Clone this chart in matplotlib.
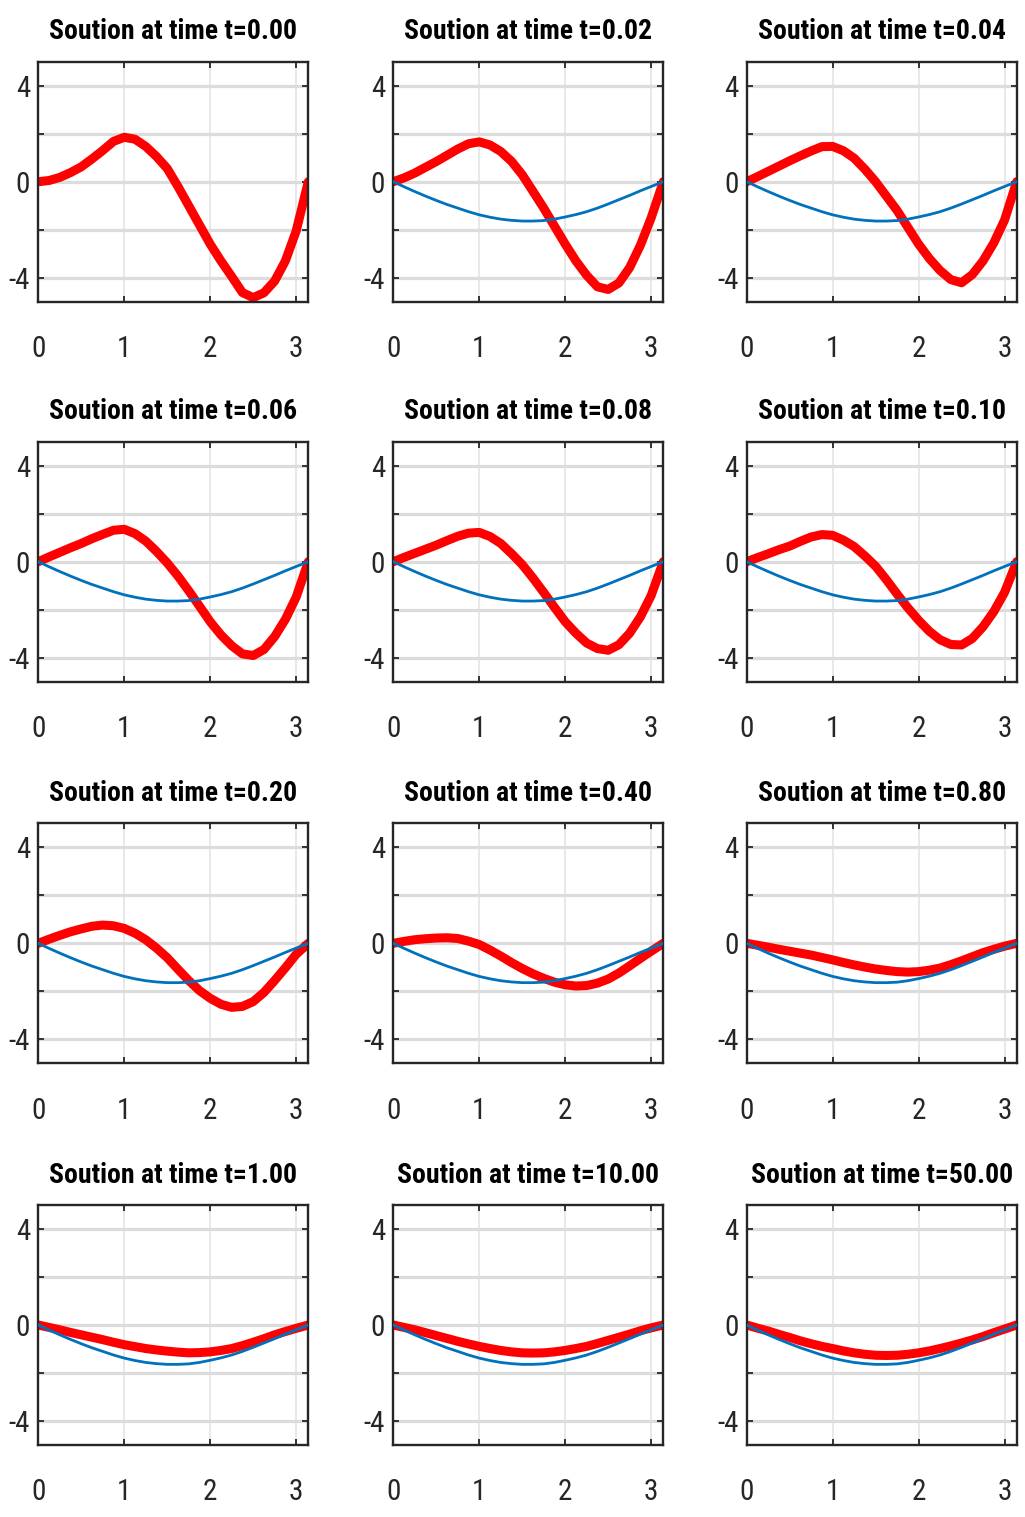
import matplotlib
matplotlib.use('Agg')
import matplotlib.pyplot as plt

plt.rcParams['font.family'] = ['Roboto Condensed', 'Liberation Sans Narrow',
                               'Liberation Sans', 'DejaVu Sans']
plt.rcParams['font.stretch'] = 'condensed'

# sample points along x (0 .. pi)
x = [0, 0.125, 0.25, 0.375, 0.5, 0.625, 0.75, 0.875, 1.0, 1.125, 1.25, 1.375, 1.5,
     1.625, 1.75, 1.875, 2.0, 2.125, 2.25, 2.375, 2.5, 2.625, 2.75, 2.875, 3.0, 3.1416]

# blue reference curve (same in every panel except the first)
blue = [0, -0.21, -0.41, -0.60, -0.78, -0.95, -1.10, -1.25, -1.38, -1.48, -1.56, -1.61, -1.64,
        -1.64, -1.62, -1.56, -1.47, -1.37, -1.25, -1.10, -0.93, -0.75, -0.57, -0.38, -0.20, 0]

times = ["0.00", "0.02", "0.04", "0.06", "0.08", "0.10",
         "0.20", "0.40", "0.80", "1.00", "10.00", "50.00"]

u_000 = [0, 0.05, 0.18, 0.38, 0.62, 0.95, 1.30, 1.68, 1.85, 1.77, 1.47, 1.05, 0.55,
         -0.20, -1.00, -1.80, -2.60, -3.30, -3.95, -4.62, -4.83, -4.63, -4.14, -3.30, -2.06, 0]
u_002 = [0, 0.16, 0.36, 0.60, 0.84, 1.10, 1.36, 1.58, 1.66, 1.53, 1.26, 0.85, 0.29,
         -0.40, -1.10, -1.85, -2.60, -3.30, -3.90, -4.38, -4.49, -4.22, -3.58, -2.65, -1.51, 0]
u_004 = [0, 0.21, 0.43, 0.65, 0.87, 1.08, 1.28, 1.46, 1.47, 1.29, 0.98, 0.52, 0.00,
         -0.60, -1.20, -1.90, -2.60, -3.20, -3.70, -4.08, -4.21, -3.87, -3.30, -2.55, -1.60, 0]
u_006 = [0, 0.20, 0.39, 0.58, 0.76, 0.96, 1.14, 1.31, 1.35, 1.17, 0.86, 0.43, -0.05,
         -0.60, -1.21, -1.85, -2.50, -3.05, -3.50, -3.84, -3.91, -3.66, -3.12, -2.40, -1.48, 0]
u_008 = [0, 0.18, 0.35, 0.52, 0.69, 0.88, 1.06, 1.19, 1.22, 1.05, 0.76, 0.34, -0.12,
         -0.68, -1.28, -1.90, -2.50, -2.98, -3.39, -3.62, -3.69, -3.46, -2.98, -2.30, -1.41, 0]
u_010 = [0, 0.17, 0.33, 0.50, 0.65, 0.85, 1.03, 1.13, 1.10, 0.90, 0.63, 0.24, -0.19,
         -0.75, -1.35, -1.92, -2.44, -2.90, -3.25, -3.45, -3.47, -3.20, -2.71, -2.08, -1.28, 0]
u_020 = [0, 0.17, 0.33, 0.48, 0.60, 0.71, 0.76, 0.73, 0.62, 0.42, 0.15, -0.20, -0.60,
         -1.08, -1.55, -1.97, -2.29, -2.54, -2.67, -2.63, -2.43, -2.05, -1.55, -1.02, -0.46, 0]
u_040 = [0, 0.08, 0.15, 0.19, 0.22, 0.23, 0.20, 0.09, -0.05, -0.28, -0.53, -0.80, -1.05,
         -1.27, -1.46, -1.62, -1.73, -1.78, -1.76, -1.66, -1.49, -1.24, -0.94, -0.63, -0.33, 0]
u_080 = [0, -0.08, -0.16, -0.25, -0.33, -0.41, -0.49, -0.59, -0.69, -0.80, -0.90, -0.99, -1.07,
         -1.13, -1.18, -1.20, -1.18, -1.12, -1.03, -0.89, -0.73, -0.56, -0.39, -0.25, -0.12, 0]
u_100 = [0, -0.10, -0.20, -0.31, -0.41, -0.51, -0.61, -0.72, -0.82, -0.90, -0.98, -1.04, -1.09,
         -1.13, -1.16, -1.15, -1.12, -1.06, -0.98, -0.86, -0.72, -0.57, -0.41, -0.27, -0.14, 0]
u_1000 = [0, -0.10, -0.20, -0.32, -0.44, -0.56, -0.68, -0.79, -0.89, -0.98, -1.06, -1.12, -1.16,
          -1.17, -1.16, -1.12, -1.06, -0.98, -0.89, -0.77, -0.64, -0.51, -0.38, -0.24, -0.12, 0]
u_5000 = [0, -0.13, -0.25, -0.39, -0.52, -0.66, -0.78, -0.89, -0.98, -1.08, -1.16, -1.22, -1.26,
          -1.27, -1.26, -1.22, -1.16, -1.08, -0.98, -0.87, -0.75, -0.62, -0.48, -0.32, -0.17, 0]

red = [u_000, u_002, u_004, u_006, u_008, u_010,
       u_020, u_040, u_080, u_100, u_1000, u_5000]

W, H = 1025, 1517
lefts = [38.3, 393.3, 746.7]
tops = [61.7, 441.7, 823.3, 1205]
aw, ah = 270, 240
dark = '#262626'

fig = plt.figure(figsize=(W / 100, H / 100), dpi=100)

for i in range(12):
    r, c = divmod(i, 3)
    ax = fig.add_axes([lefts[c] / W, 1 - (tops[r] + ah) / H, aw / W, ah / H])
    ax.plot(x, red[i], color='r', lw=6.5, solid_capstyle='round',
            solid_joinstyle='round', zorder=2)
    if i > 0:
        ax.plot(x, blue, color='#0072BD', lw=2.0, zorder=3)
    ax.set_xlim(0, 3.1416)
    ax.set_ylim(-5, 5)
    ax.set_xticks([0, 1, 2, 3])
    ax.set_yticks([-4, -2, 0, 2, 4])
    ax.set_yticklabels(['-4', '', '0', '', '4'])
    ax.xaxis.grid(True, color='#e2e2e2', lw=1.1)
    ax.yaxis.grid(True, color='#dcdcdc', lw=2.3)
    ax.set_axisbelow(True)
    ax.tick_params(direction='in', length=4, width=1.3, top=True, right=True,
                   colors=dark, labelsize=21)
    ax.tick_params(axis='x', pad=24)
    ax.tick_params(axis='y', pad=6)
    for s in ax.spines.values():
        s.set_color(dark)
        s.set_linewidth(1.7)
    ax.set_title('Soution at time t=' + times[i], fontsize=20,
                 fontweight='bold', pad=16)

fig.savefig('out.png', dpi=100)
